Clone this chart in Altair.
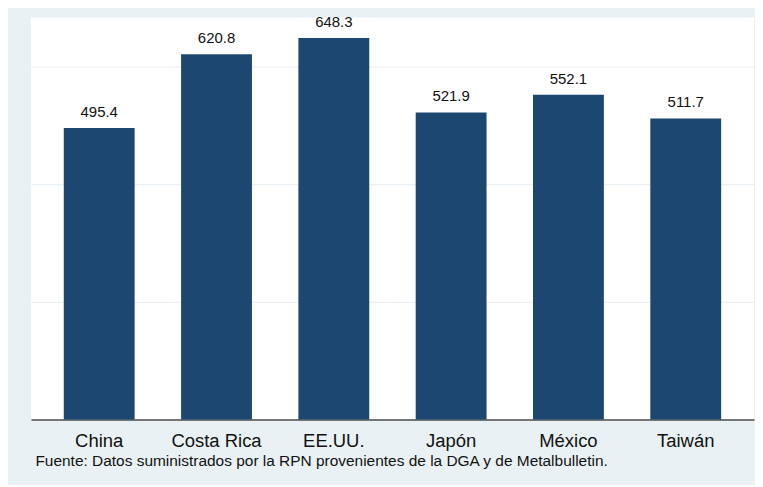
import altair as alt
import pandas as pd

countries = ["China", "Costa Rica", "EE.UU.", "Japón", "México", "Taiwán"]
values = [495.4, 620.8, 648.3, 521.9, 552.1, 511.7]
grid_values = [0, 200, 400, 600]
footer = "Fuente: Datos suministrados por la RPN provenientes de la DGA y de Metalbulletin."

df = pd.DataFrame({"pais": countries, "valor": values})

FONT = "Liberation Sans"
BAR = "#1c4770"
PANEL = "#e9f1f4"

x = alt.X(
    "pais:N",
    sort=countries,
    scale=alt.Scale(paddingInner=0.396, paddingOuter=0.28),
    axis=alt.Axis(
        title=footer,
        titleAnchor="start",
        titleAlign="left",
        titleBaseline="middle",
        titleX=4,
        titleY=41,
        titleFont=FONT,
        titleFontSize=15.5,
        titleFontWeight="normal",
        titleColor="#111111",
        labelAngle=0,
        labelFont=FONT,
        labelFontSize=18.5,
        labelColor="#111111",
        labelPadding=12,
        ticks=False,
        domainColor="#4d4d4d",
        domainWidth=1.5,
        grid=False,
    ),
)
y = alt.Y(
    "valor:Q",
    scale=alt.Scale(domain=[0, 683], nice=False),
    axis=alt.Axis(
        title=None,
        labels=False,
        ticks=False,
        domain=False,
        values=grid_values,
        grid=True,
        gridColor="#eaf0f3",
        gridWidth=1.2,
    ),
)

bars = alt.Chart(df).mark_bar(color=BAR).encode(x=x, y=y)
labels = alt.Chart(df).mark_text(
    baseline="bottom", dy=-8, font=FONT, fontSize=15, color="#111111"
).encode(x=alt.X("pais:N", sort=countries), y="valor:Q", text=alt.Text("valor:Q", format=".1f"))

chart = (
    alt.layer(bars, labels)
    .properties(
        width=725,
        height=403,
        background=PANEL,
        padding={"left": 23, "top": 9, "right": 1, "bottom": 65},
        autosize=alt.AutoSizeParams(type="none"),
    )
    .configure_view(fill="white", stroke=None)
)

chart.save("out.html", embed_options={"renderer": "svg", "actions": False})
